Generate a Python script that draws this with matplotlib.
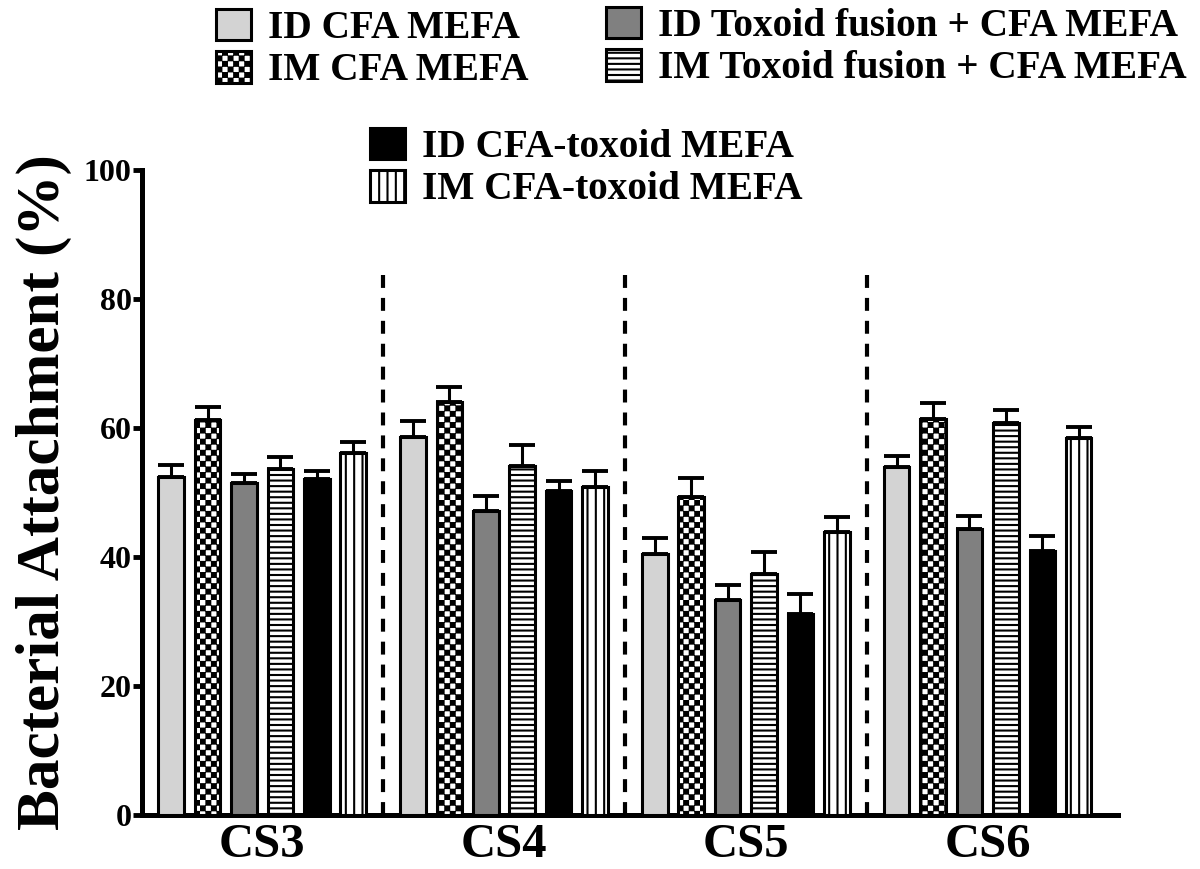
import numpy as np
import warnings
import matplotlib
matplotlib.use("Agg")
from matplotlib import pyplot as plt
import matplotlib.hatch as mhatch
from matplotlib.path import Path

warnings.filterwarnings("ignore")

# ---------------- data ----------------
groups = ['CS3', 'CS4', 'CS5', 'CS6']
labels = ['ID CFA MEFA', 'IM CFA MEFA', 'ID Toxoid fusion + CFA MEFA',
          'IM Toxoid fusion + CFA MEFA', 'ID CFA-toxoid MEFA', 'IM CFA-toxoid MEFA']

id_cfa = [52.4, 58.6, 40.4, 54.0]
id_cfa_err = [1.9, 2.5, 2.5, 1.6]
im_cfa = [61.2, 64.1, 49.3, 61.4]
im_cfa_err = [2.1, 2.3, 2.9, 2.5]
id_tox = [51.4, 47.1, 33.3, 44.3]
id_tox_err = [1.5, 2.4, 2.4, 2.0]
im_tox = [53.7, 54.1, 37.4, 60.7]
im_tox_err = [1.8, 3.2, 3.3, 2.1]
id_cfatox = [52.1, 50.2, 31.2, 40.9]
id_cfatox_err = [1.3, 1.6, 3.0, 2.3]
im_cfatox = [56.2, 50.9, 43.9, 58.4]
im_cfatox_err = [1.6, 2.5, 2.3, 1.8]

values = [id_cfa, im_cfa, id_tox, im_tox, id_cfatox, im_cfatox]
errors = [id_cfa_err, im_cfa_err, id_tox_err, im_tox_err, id_cfatox_err, im_cfatox_err]

HATCH_LW = 1.5


# ---------- checkerboard hatch ('c') ----------
class CheckerHatch(mhatch.HatchPatternBase):
    def __init__(self, hatch, density):
        self.num_cells = int(hatch.count('c') * density)
        self.num_vertices = (self.num_cells * self.num_cells // 2) * 5

    def set_vertices_and_codes(self, vertices, codes):
        n = self.num_cells
        s = 1.0 / n
        d = HATCH_LW / 72.0 / 2.0 * 0.8  # shrink so the stroke does not grow the squares
        sq = np.array([[d, d], [s - d, d], [s - d, s - d], [d, s - d], [d, d]])
        parts = []
        for i in range(n):
            for j in range(n):
                if (i + j) % 2 == 0:
                    parts.append(sq + [i * s, j * s])
        vertices[:] = np.concatenate(parts)
        codes[:] = np.tile([Path.MOVETO, Path.LINETO, Path.LINETO,
                            Path.LINETO, Path.CLOSEPOLY], len(parts))


mhatch._hatch_types.append(CheckerHatch)

plt.rcParams['font.family'] = ['Liberation Serif', 'DejaVu Serif']
plt.rcParams['font.weight'] = 'bold'
plt.rcParams['hatch.linewidth'] = HATCH_LW
plt.rcParams['hatch.color'] = 'black'

faces = ['#d3d3d3', 'white', '#808080', 'white', 'black', 'white']
hatches = [None, 'ccc', None, '---', None, '||']

fig = plt.figure(figsize=(12, 8.69), dpi=100)
ax = fig.add_axes([142 / 1200, 1 - 815 / 869, 976 / 1200, 645 / 869])

period = 6.64
base = np.arange(len(groups)) * period
bars = []
for i in range(6):
    x = base + i
    b = ax.bar(x, values[i], width=0.7, color=faces[i], edgecolor='black',
               linewidth=2.2, hatch=hatches[i], label=labels[i], zorder=3)
    bars.append(b)
    ax.errorbar(x, values[i], yerr=[np.zeros(len(groups)), errors[i]], fmt='none',
                ecolor='black', elinewidth=2.2, capsize=9.5, capthick=2.8, zorder=2)

# dashed separators between groups
div_x = base[:-1] + 5 + (period - 5) / 2
ax.vlines(div_x, 0, 84.5, colors='black', linewidth=3, linestyles=(0, (3.1, 2.4)), zorder=1)

ax.set_xlim(-0.8, 26.0)
ax.set_ylim(0, 100)
ax.set_yticks([0, 20, 40, 60, 80, 100])
ax.set_xticks(base + 2.5)
ax.set_xticklabels(groups)
ax.tick_params(axis='y', direction='out', length=6.5, width=3.5, labelsize=23, pad=1)
ax.tick_params(axis='x', length=0, labelsize=35, pad=6)
for sp in ['top', 'right']:
    ax.spines[sp].set_visible(False)
for sp in ['left', 'bottom']:
    ax.spines[sp].set_linewidth(3.6)

ax.set_ylabel('Bacterial Attachment (%)', fontsize=44, fontweight='bold')
ax.yaxis.set_label_coords(-0.072, 0.5)

# legends in three blocks
leg_kw = dict(loc='upper left', frameon=False, fontsize=28.3, handlelength=0.9,
              handleheight=0.85, handletextpad=0.42, labelspacing=0.1,
              borderpad=0, borderaxespad=0)
fig.legend([bars[0], bars[1]], labels[0:2], bbox_to_anchor=(216 / 1200, 1 - 9 / 869), **leg_kw)
fig.legend([bars[2], bars[3]], labels[2:4], bbox_to_anchor=(606 / 1200, 1 - 7 / 869), **leg_kw)
fig.legend([bars[4], bars[5]], labels[4:6], bbox_to_anchor=(370 / 1200, 1 - 128 / 869), **leg_kw)

fig.savefig('out.png', dpi=100)
